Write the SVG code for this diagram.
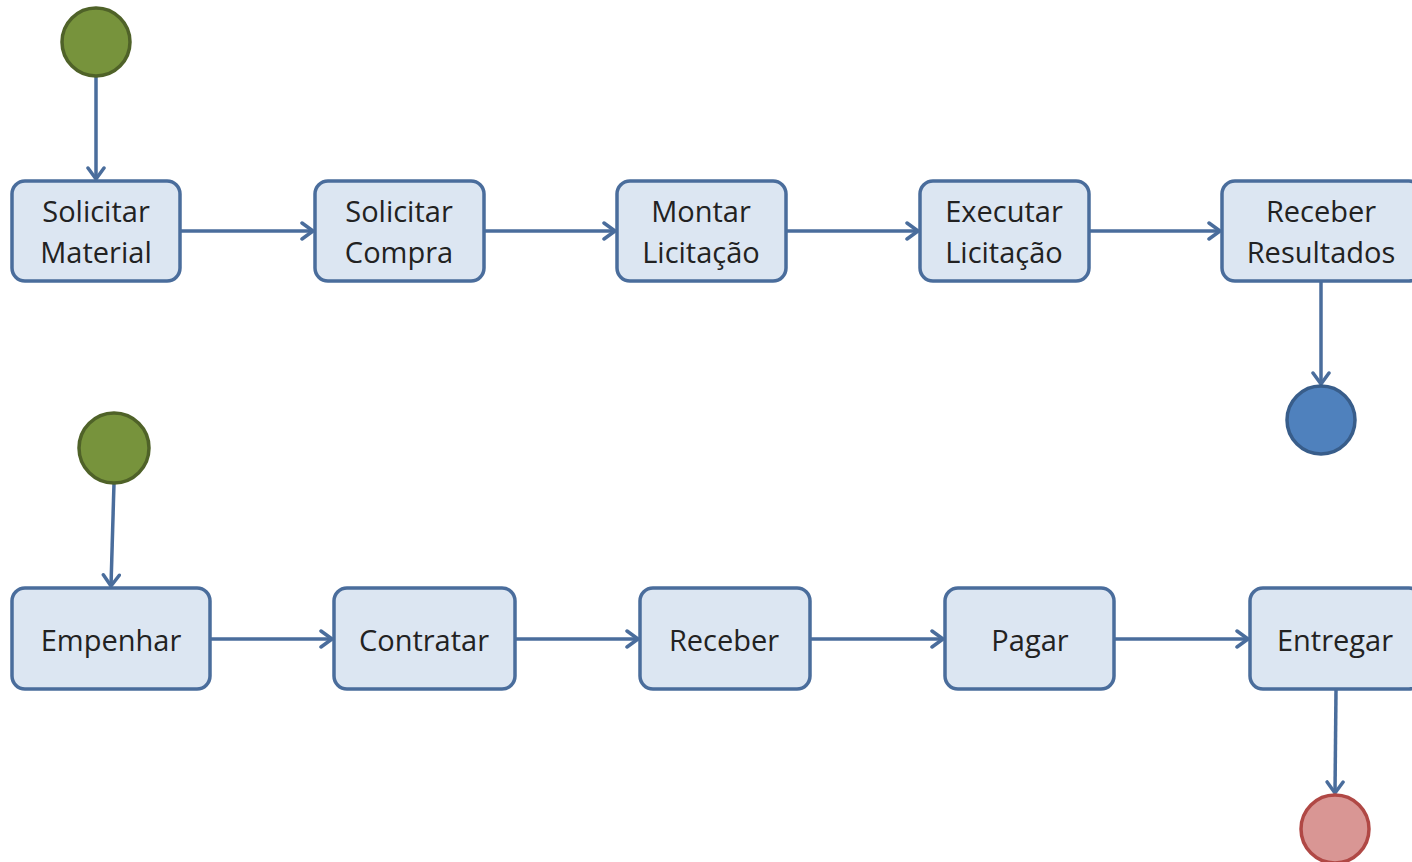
<svg xmlns="http://www.w3.org/2000/svg" width="1412" height="862" viewBox="0 0 1412 862">
<defs>
<style>
.box{fill:#dce6f2;stroke:#4a6d9c;stroke-width:3.5}
.lbl{font-family:"Open Sans","Liberation Sans",Arial,sans-serif;font-size:29px;fill:#222222;text-anchor:middle}
.edge{stroke:#4a6d9c;stroke-width:3.5;fill:none}
.start{fill:#77933c;stroke:#4f6228;stroke-width:3.5}
.endA{fill:#4f81bd;stroke:#385d8a;stroke-width:3.5}
.endB{fill:#d99694;stroke:#b04845;stroke-width:3.5}
</style>
<marker id="arr" viewBox="0 0 16 20" markerWidth="16" markerHeight="20" refX="14" refY="10" orient="auto" markerUnits="userSpaceOnUse">
<path d="M3,2 L14,10 L3,18" fill="none" stroke="#4a6d9c" stroke-width="3.5" stroke-linecap="round" stroke-linejoin="round"/>
</marker>
</defs>
<rect width="1412" height="862" fill="#ffffff"/>
<g id="connectors">
<line class="edge" x1="96" y1="76" x2="96" y2="179" marker-end="url(#arr)"/>
<line class="edge" x1="180" y1="231" x2="313" y2="231" marker-end="url(#arr)"/>
<line class="edge" x1="484" y1="231" x2="615" y2="231" marker-end="url(#arr)"/>
<line class="edge" x1="786" y1="231" x2="918" y2="231" marker-end="url(#arr)"/>
<line class="edge" x1="1089" y1="231" x2="1220" y2="231" marker-end="url(#arr)"/>
<line class="edge" x1="1321" y1="282" x2="1321" y2="384" marker-end="url(#arr)"/>
<line class="edge" x1="114" y1="483" x2="111" y2="586" marker-end="url(#arr)"/>
<line class="edge" x1="210" y1="639" x2="332" y2="639" marker-end="url(#arr)"/>
<line class="edge" x1="515" y1="639" x2="638" y2="639" marker-end="url(#arr)"/>
<line class="edge" x1="810" y1="639" x2="943" y2="639" marker-end="url(#arr)"/>
<line class="edge" x1="1114" y1="639" x2="1248" y2="639" marker-end="url(#arr)"/>
<line class="edge" x1="1336" y1="690" x2="1335" y2="793" marker-end="url(#arr)"/>
</g>
<g id="start1"><circle class="start" cx="96" cy="42" r="34"/></g>
<g id="solicitarMaterial"><rect class="box" x="12" y="181" width="168" height="100" rx="13"/><text class="lbl" x="96" y="222">Solicitar</text><text class="lbl" x="96" y="263">Material</text></g>
<g id="solicitarCompra"><rect class="box" x="315" y="181" width="169" height="100" rx="13"/><text class="lbl" x="399" y="222">Solicitar</text><text class="lbl" x="399" y="263">Compra</text></g>
<g id="montarLicitacao"><rect class="box" x="617" y="181" width="169" height="100" rx="13"/><text class="lbl" x="701" y="222">Montar</text><text class="lbl" x="701" y="263">Licitação</text></g>
<g id="executarLicitacao"><rect class="box" x="920" y="181" width="169" height="100" rx="13"/><text class="lbl" x="1004" y="222">Executar</text><text class="lbl" x="1004" y="263">Licitação</text></g>
<g id="receberResultados"><rect class="box" x="1222" y="181" width="200" height="100" rx="13"/><text class="lbl" x="1321" y="222">Receber</text><text class="lbl" x="1321" y="263">Resultados</text></g>
<g id="end1"><circle class="endA" cx="1321" cy="420" r="34"/></g>
<g id="start2"><circle class="start" cx="114" cy="448" r="35"/></g>
<g id="empenhar"><rect class="box" x="12" y="588" width="198" height="101" rx="13"/><text class="lbl" x="111" y="651">Empenhar</text></g>
<g id="contratar"><rect class="box" x="334" y="588" width="181" height="101" rx="13"/><text class="lbl" x="424" y="651">Contratar</text></g>
<g id="receber"><rect class="box" x="640" y="588" width="170" height="101" rx="13"/><text class="lbl" x="724" y="651">Receber</text></g>
<g id="pagar"><rect class="box" x="945" y="588" width="169" height="101" rx="13"/><text class="lbl" x="1030" y="651">Pagar</text></g>
<g id="entregar"><rect class="box" x="1250" y="588" width="172" height="101" rx="13"/><text class="lbl" x="1335" y="651">Entregar</text></g>
<g id="end2"><circle class="endB" cx="1335" cy="829" r="34"/></g>
</svg>
